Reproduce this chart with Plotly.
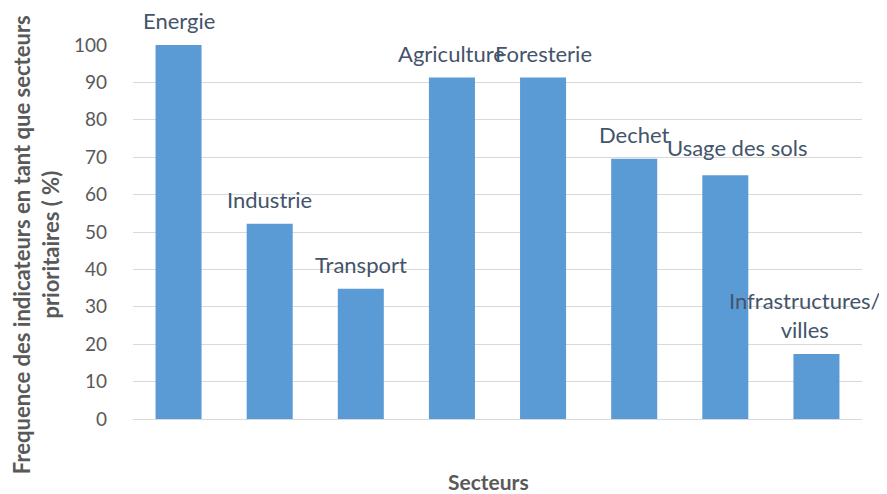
import plotly.graph_objects as go

categories = ["Energie", "Industrie", "Transport", "Agriculture", "Foresterie",
              "Dechet", "Usage des sols", "Infrastructures/<br>villes"]
values = [100.0, 52.2, 34.8, 91.3, 91.3, 69.6, 65.2, 17.4]
yticks = [0, 10, 20, 30, 40, 50, 60, 70, 80, 90, 100]

FONT = "Lato, 'Open Sans', sans-serif"
TXT = "#595959"
LBL = "#44546A"

fig = go.Figure()
fig.add_trace(go.Bar(
    x=list(range(len(categories))), y=values,
    marker=dict(color="#5B9BD5", line=dict(width=0)),
    width=0.505, hoverinfo="skip",
))

# small label nudges like Excel's overlap avoidance
xshifts = {6: 12, 7: -11}
yshifts = {6: 3}
for i, (c, v) in enumerate(zip(categories, values)):
    fig.add_annotation(x=i, y=v, text=c, showarrow=False, yanchor="bottom",
                       xshift=xshifts.get(i, 0), yshift=9 + yshifts.get(i, 0),
                       font=dict(family=FONT, size=22, color=LBL))

fig.add_annotation(xref="paper", yref="paper", x=0.487, y=-0.168, text="<b>Secteurs</b>",
                   showarrow=False, yanchor="middle", xanchor="center",
                   font=dict(family=FONT, size=21, color=TXT))

fig.add_annotation(xref="paper", yref="paper", x=-0.133, y=0.465,
                   text="<b>Frequence des indicateurs en tant que secteurs<br>prioritaires ( %)</b>",
                   showarrow=False, textangle=-90, xanchor="center", yanchor="middle",
                   font=dict(family=FONT, size=22, color=TXT))

fig.update_layout(
    width=879, height=486,
    margin=dict(l=125, r=25, t=37, b=75, autoexpand=False),
    plot_bgcolor="white", paper_bgcolor="white",
    showlegend=False,
    xaxis=dict(range=[-0.5, len(categories) - 0.5], showticklabels=False,
               showgrid=False, zeroline=False, showline=False, ticks="", automargin=False),
    yaxis=dict(range=[0, 100], tickvals=yticks, showgrid=True, gridcolor="#D9D9D9",
               gridwidth=1, zeroline=True, zerolinecolor="#D9D9D9", zerolinewidth=1,
               showline=False, ticks="", ticklabelstandoff=25, automargin=False,
               tickfont=dict(family=FONT, size=19, color=TXT)),
    font=dict(family=FONT),
)

fig.write_html("out.html")
